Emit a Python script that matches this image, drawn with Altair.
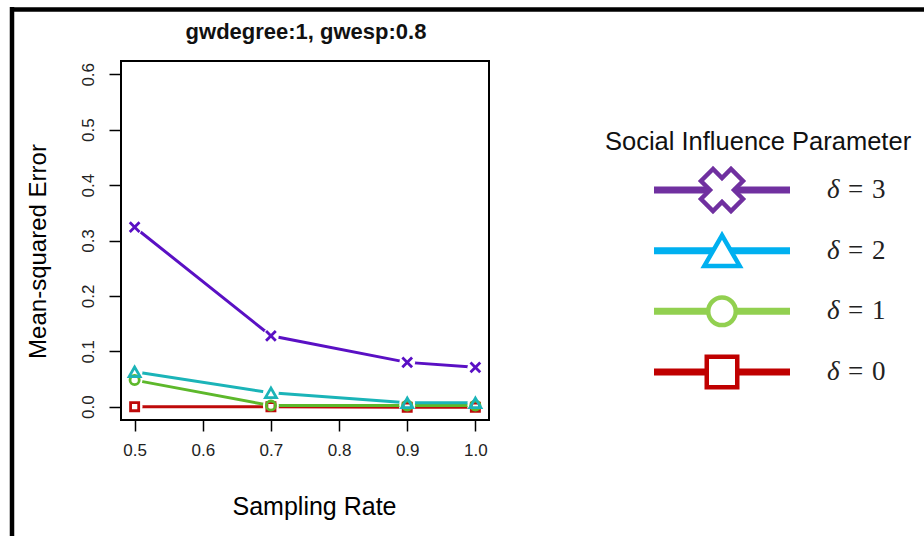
import altair as alt
import pandas as pd

# Sampling rates and axis ticks
rates = [0.5, 0.7, 0.9, 1.0]
x_ticks = [0.5, 0.6, 0.7, 0.8, 0.9, 1.0]
y_ticks = [0.0, 0.1, 0.2, 0.3, 0.4, 0.5, 0.6]

# Mean-squared error per social influence level (delta)
mse_delta3 = [0.324, 0.128, 0.080, 0.071]
mse_delta2 = [0.063, 0.025, 0.007, 0.007]
mse_delta1 = [0.048, 0.002, 0.002, 0.002]
mse_delta0 = [0.000, 0.000, -0.001, -0.001]

deltas = [0, 1, 2, 3]
series_values = [mse_delta0, mse_delta1, mse_delta2, mse_delta3]
plot_colors = ["#BE0A0A", "#5DB82B", "#1BB4B8", "#5A10C4"]
legend_colors = ["#C00000", "#92D050", "#00B0F0", "#7030A0"]
plot_shapes = ["square", "circle", "triangle-up", "M-1,-1L1,1M-1,1L1,-1"]
plot_sizes = [66, 85, 120, 95]
legend_shapes = ["square", "circle", "triangle-up", "cross"]
legend_sizes = [930, 760, 1250, 1800]
legend_angles = [0, 0, 0, 45]
legend_title = "Social Influence Parameter"
chart_title = "gwdegree:1, gwesp:0.8"

FONT = "Liberation Sans"

x_scale = alt.Scale(domain=[0.48, 1.02], nice=False, zero=False)
y_scale = alt.Scale(domain=[-0.024, 0.624], nice=False, zero=False)

x_axis = alt.Axis(
    values=x_ticks, format=".1f", domain=False, grid=False,
    tickSize=11, tickWidth=1.5, tickColor="black",
    labelFont=FONT, labelFontSize=17, labelColor="#222", labelPadding=11,
    labelFlush=False, labelOverlap=False,
    title="Sampling Rate", titleFont=FONT, titleFontSize=25,
    titleFontWeight="normal", titleColor="black",
    titleX=193, titleY=94, titleAlign="center", titleBaseline="alphabetic",
)
y_axis = alt.Axis(
    values=y_ticks, format=".1f", domain=False, grid=False,
    tickSize=12, tickWidth=1.5, tickColor="black",
    labelFont=FONT, labelFontSize=17, labelColor="#222", labelPadding=12,
    labelAngle=270, labelAlign="center", labelBaseline="bottom",
    labelFlush=False, labelOverlap=False,
    title="Mean-squared Error", titleFont=FONT, titleFontSize=24,
    titleFontWeight="normal", titleColor="black",
    titleX=-83, titleY=190, titleAngle=270, titleAlign="center",
    titleBaseline="middle",
)

X = alt.X("rate:Q", scale=x_scale, axis=x_axis)
Y = alt.Y("mse:Q", scale=y_scale, axis=y_axis)

frames = [pd.DataFrame({"rate": rates, "mse": vals, "delta": d})
          for d, vals in zip(deltas, series_values)]

# Lines with a white gap around each point, then the open markers on top
plot_layers = []
for df, col in zip(frames, plot_colors):
    base = alt.Chart(df).encode(x=X, y=Y)
    plot_layers.append(base.mark_line(color=col, strokeWidth=3))
    plot_layers.append(base.mark_point(shape="circle", filled=True, color="white",
                                       opacity=1, size=250))
for df, col, shp, sz in zip(frames, plot_colors, plot_shapes, plot_sizes):
    plot_layers.append(
        alt.Chart(df).mark_point(shape=shp, filled=False, color=col, strokeWidth=2.8,
                                 size=sz, opacity=1).encode(x=X, y=Y)
    )
plot_layers.append(
    alt.Chart(pd.DataFrame({"t": [chart_title]})).mark_text(
        font=FONT, fontSize=22, fontWeight="bold", color="#111",
        align="center", baseline="alphabetic").encode(
        x=alt.value(185), y=alt.value(-22), text="t:N")
)
plot = alt.layer(*plot_layers)

# Hand-built legend: thick line with a large open marker and a delta label
leg_x = alt.Scale(domain=[0, 1], range=[533, 669])
leg_y = alt.Scale(domain=[0, 3], range=[311, 129])
LX = alt.X("pos:Q", scale=leg_x, axis=None)
LY = alt.Y("delta:Q", scale=leg_y, axis=None)
legend_layers = []
for d, col, shp, sz, ang in zip(deltas, legend_colors, legend_shapes, legend_sizes, legend_angles):
    seg = pd.DataFrame({"pos": [0.0, 1.0], "delta": [d, d]})
    mid = pd.DataFrame({"pos": [0.5], "delta": [d], "sym": ["δ"], "eq": ["="], "num": [str(d)]})
    legend_layers.append(
        alt.Chart(seg).mark_line(color=col, strokeWidth=7, strokeCap="butt").encode(x=LX, y=LY)
    )
    legend_layers.append(
        alt.Chart(mid).mark_point(shape=shp, filled=True, fill="white", stroke=col,
                                  strokeWidth=4.5, size=sz, angle=ang, opacity=1,
                                  fillOpacity=1, strokeJoin="miter").encode(x=LX, y=LY)
    )
    for field, off, style in [("sym", 105, "italic"), ("eq", 126, "normal"), ("num", 150, "normal")]:
        legend_layers.append(
            alt.Chart(mid).mark_text(font="Liberation Serif", fontSize=27, fontStyle=style,
                                     align="left", baseline="middle", color="#222",
                                     dx=off).encode(x=LX, y=LY, text=f"{field}:N")
        )
title_df = pd.DataFrame({"pos": [0.765], "delta": [3.66], "label": [legend_title]})
legend_layers.append(
    alt.Chart(title_df).mark_text(font=FONT, fontSize=25.5, align="center",
                                  baseline="alphabetic", color="#111").encode(
        x=LX, y=LY, text="label:N")
)
legend = alt.layer(*legend_layers)

# Page frame on the top and left edges
frame_top = alt.Chart(pd.DataFrame({"k": [0]})).mark_rule(
    color="black", strokeWidth=4.5).encode(
    x=alt.value(-111), x2=alt.value(803), y=alt.value(-51.5))
frame_left = alt.Chart(pd.DataFrame({"k": [0]})).mark_rule(
    color="black", strokeWidth=4.5).encode(
    x=alt.value(-109), y=alt.value(-54), y2=alt.value(475))

chart = alt.layer(plot, legend, frame_top, frame_left).resolve_scale(
    x="independent", y="independent"
).properties(
    width=368, height=359,
    autosize=alt.AutoSizeParams(type="none"),
    padding={"left": 121, "top": 61, "right": 435, "bottom": 116},
    background="white",
).configure_view(stroke="black", strokeWidth=2)

chart.save("out.html", embed_options={"renderer": "svg", "actions": False})
